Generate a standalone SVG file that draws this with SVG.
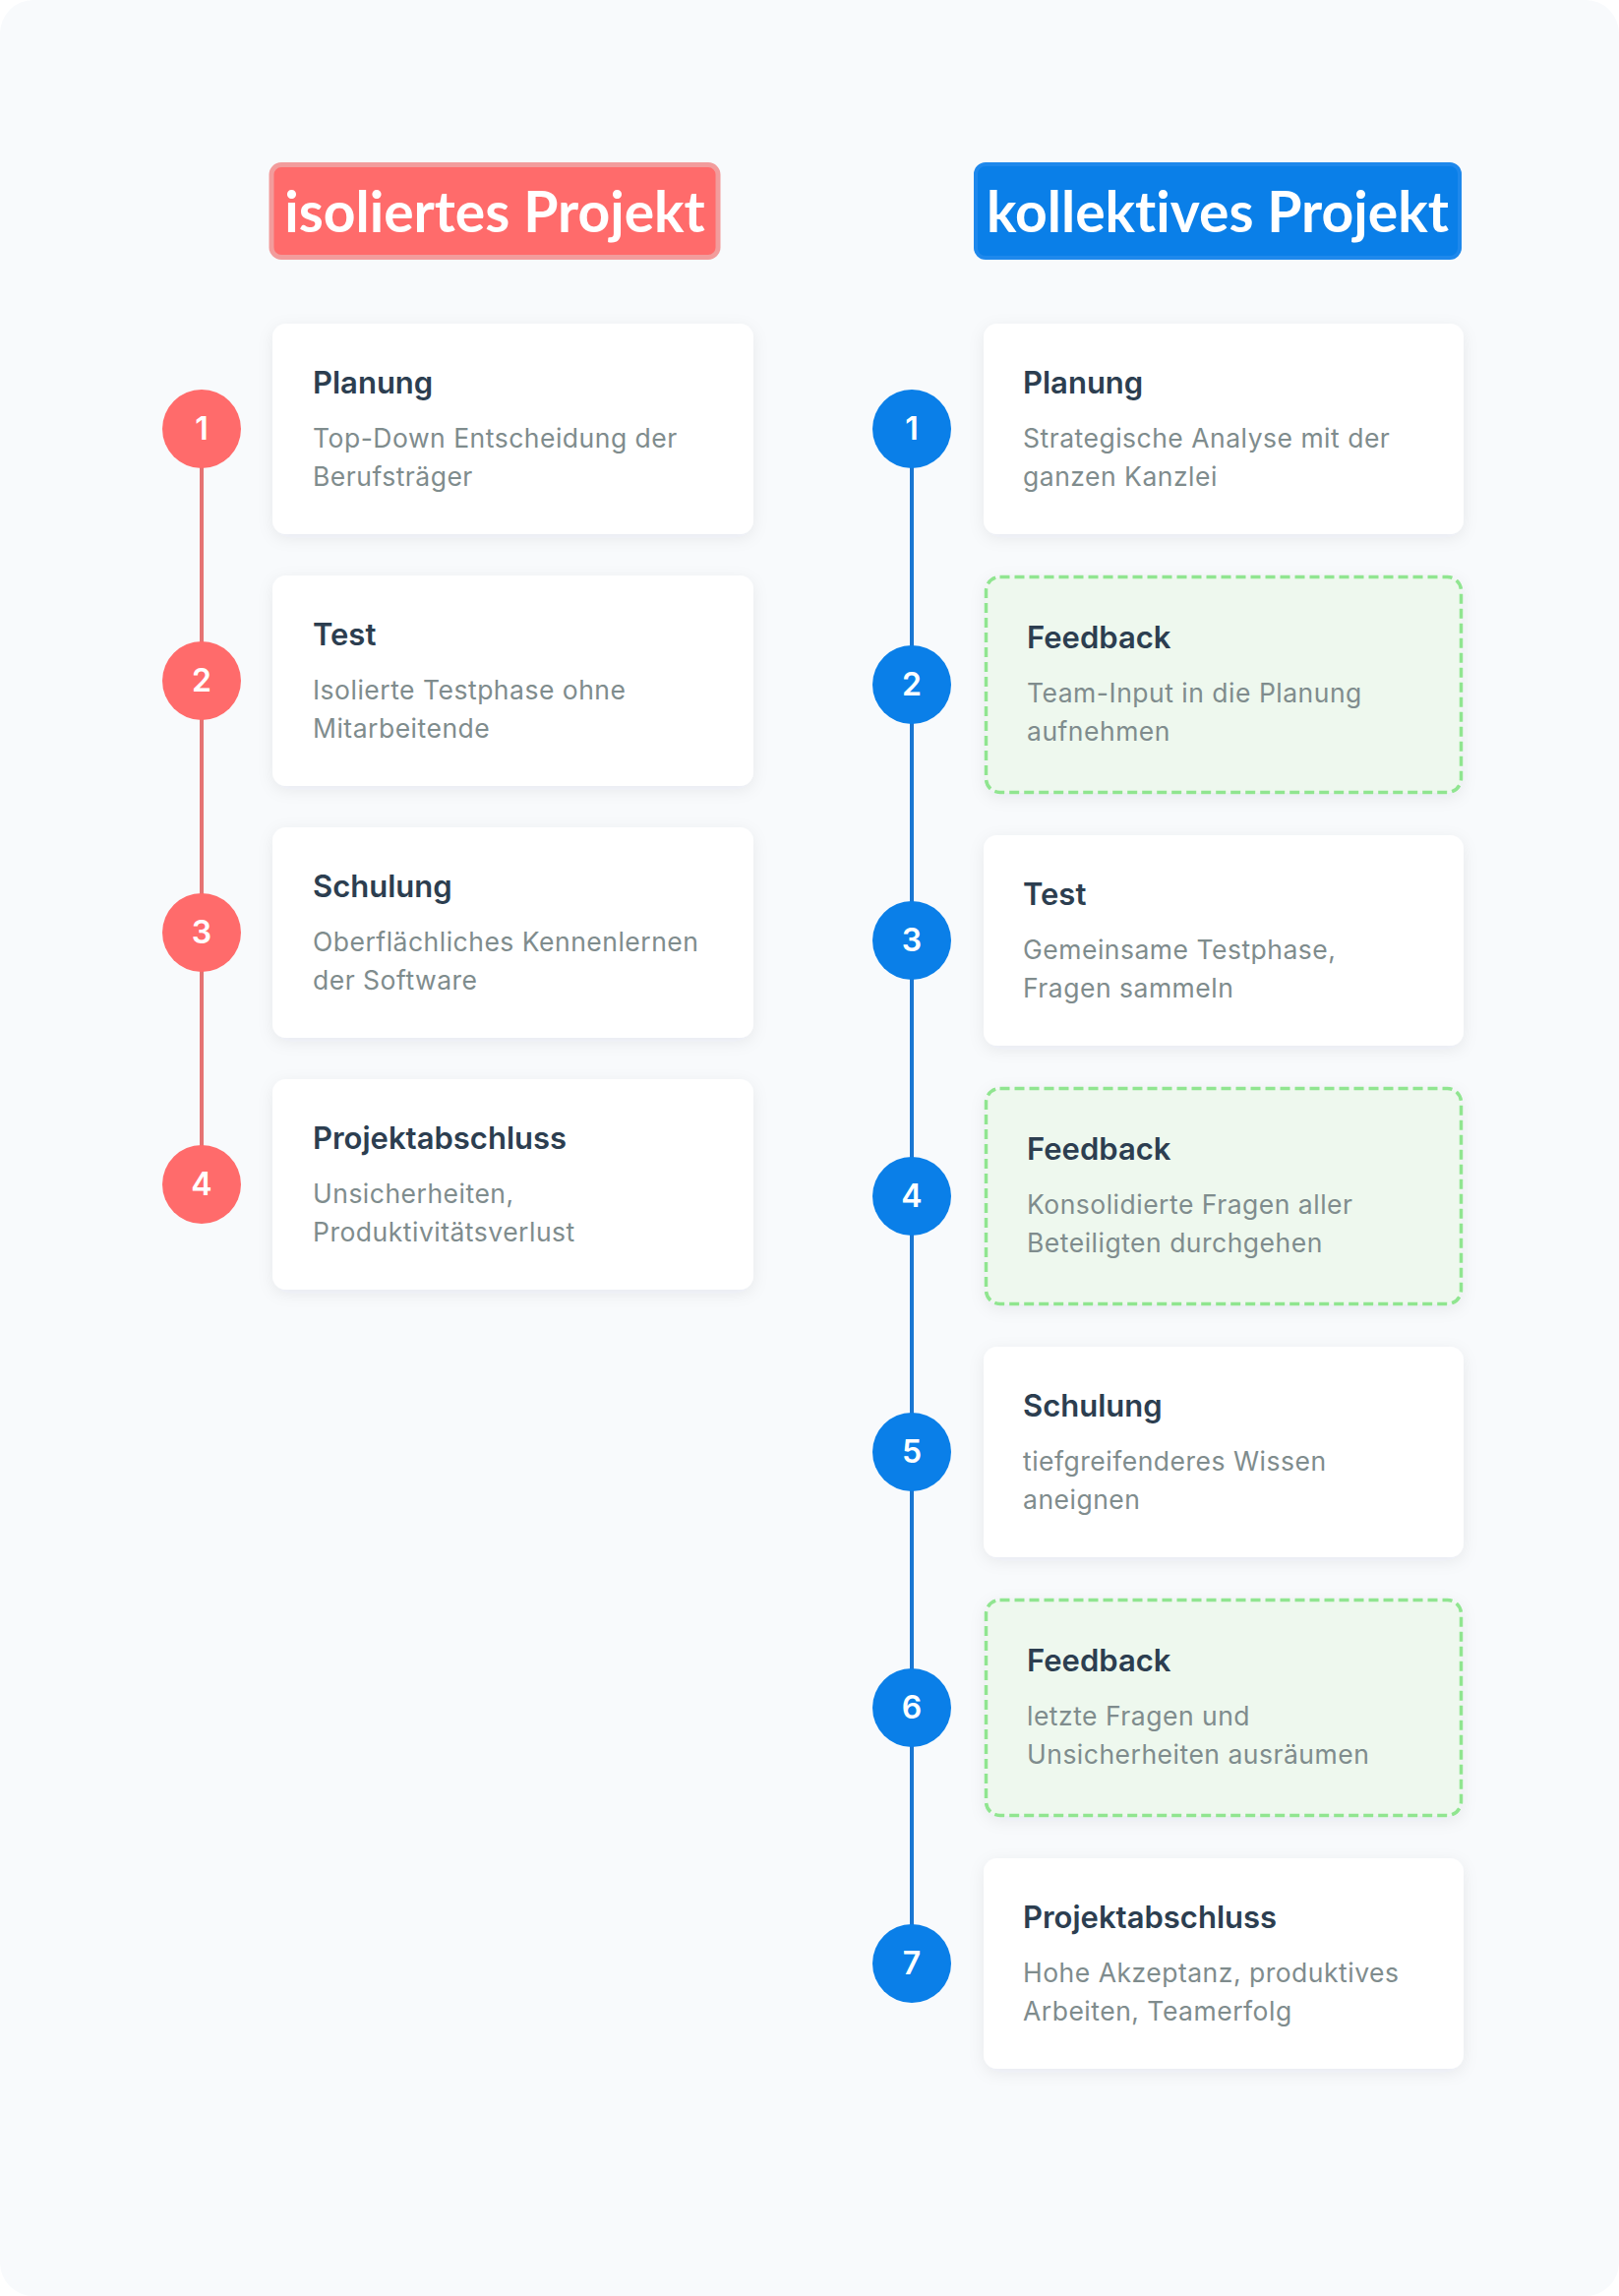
<svg xmlns="http://www.w3.org/2000/svg" width="1646" height="2334" viewBox="0 0 1646 2334">
<defs>
<filter id="sh" x="-10%" y="-15%" width="120%" height="140%">
<feDropShadow dx="0" dy="4" stdDeviation="8" flood-color="#1e293b" flood-opacity="0.07"/>
</filter>
<style>
.card{fill:#ffffff;filter:url(#sh)}
.fb{fill:#eef8ee;stroke:#90e590;stroke-width:3.5;stroke-dasharray:10 5;filter:url(#sh)}
.t{font-family:Inter,"Noto Sans",sans-serif;font-weight:600;font-size:31px;fill:#2c3e50}
.d{font-family:Inter,"Noto Sans",sans-serif;font-weight:400;font-size:26.5px;letter-spacing:0.5px;fill:#7f8c8d}
.n{font-family:Inter,"Noto Sans",sans-serif;font-weight:600;font-size:32px;fill:#ffffff;text-anchor:middle}
.h{font-family:Lato,"Liberation Sans",sans-serif;font-weight:700;font-size:57px;fill:#ffffff;text-anchor:middle;font-variant-ligatures:none;font-feature-settings:"liga" 0}
.cr{fill:#ff6b6b}
.cb{fill:#0a7fe8}
</style>
</defs>
<rect x="0" y="0" width="1646" height="2334" fill="#ffffff"/>
<rect x="0" y="0" width="1646" height="2334" rx="34" fill="#f8fafc"/>

<g id="header-left">
<rect x="276" y="167.5" width="454" height="94" rx="10" fill="#ff6b6b" stroke="#f29c9c" stroke-width="5"/>
<text class="h" x="503" y="236">isoliertes Projekt</text>
</g>
<g id="header-right">
<rect x="992" y="167" width="492" height="95" rx="10" fill="#0a7fe8" stroke="#1e88ec" stroke-width="4"/>
<text class="h" x="1238" y="236">kollektives Projekt</text>
</g>

<g id="connectors">
<line x1="205" y1="436" x2="205" y2="1204" stroke="#e57373" stroke-width="4"/>
<line x1="927" y1="436" x2="927" y2="1996" stroke="#1976d2" stroke-width="4"/>
</g>

<g id="L1">
<rect class="card" x="277" y="329" width="489" height="214" rx="14"/>
<text class="t" x="318" y="400">Planung</text>
<text class="d" x="318" y="455">Top-Down Entscheidung der</text>
<text class="d" x="318" y="494">Berufsträger</text>
<circle class="cr" cx="205" cy="436" r="40"/>
<text class="n" x="205" y="447">1</text>
</g>
<g id="L2">
<rect class="card" x="277" y="585" width="489" height="214" rx="14"/>
<text class="t" x="318" y="656">Test</text>
<text class="d" x="318" y="711">Isolierte Testphase ohne</text>
<text class="d" x="318" y="750">Mitarbeitende</text>
<circle class="cr" cx="205" cy="692" r="40"/>
<text class="n" x="205" y="703">2</text>
</g>
<g id="L3">
<rect class="card" x="277" y="841" width="489" height="214" rx="14"/>
<text class="t" x="318" y="912">Schulung</text>
<text class="d" x="318" y="967">Oberflächliches Kennenlernen</text>
<text class="d" x="318" y="1006">der Software</text>
<circle class="cr" cx="205" cy="948" r="40"/>
<text class="n" x="205" y="959">3</text>
</g>
<g id="L4">
<rect class="card" x="277" y="1097" width="489" height="214" rx="14"/>
<text class="t" x="318" y="1168">Projektabschluss</text>
<text class="d" x="318" y="1223">Unsicherheiten,</text>
<text class="d" x="318" y="1262">Produktivitätsverlust</text>
<circle class="cr" cx="205" cy="1204" r="40"/>
<text class="n" x="205" y="1215">4</text>
</g>

<g id="R1">
<rect class="card" x="1000" y="329" width="488" height="214" rx="14"/>
<text class="t" x="1040" y="400">Planung</text>
<text class="d" x="1040" y="455">Strategische Analyse mit der</text>
<text class="d" x="1040" y="494">ganzen Kanzlei</text>
<circle class="cb" cx="927" cy="436" r="40"/>
<text class="n" x="927" y="447">1</text>
</g>
<g id="R2">
<rect class="fb" x="1002.5" y="586.5" width="483" height="219" rx="14"/>
<text class="t" x="1044" y="659">Feedback</text>
<text class="d" x="1044" y="714">Team-Input in die Planung</text>
<text class="d" x="1044" y="753">aufnehmen</text>
<circle class="cb" cx="927" cy="696" r="40"/>
<text class="n" x="927" y="707">2</text>
</g>
<g id="R3">
<rect class="card" x="1000" y="849" width="488" height="214" rx="14"/>
<text class="t" x="1040" y="920">Test</text>
<text class="d" x="1040" y="975">Gemeinsame Testphase,</text>
<text class="d" x="1040" y="1014">Fragen sammeln</text>
<circle class="cb" cx="927" cy="956" r="40"/>
<text class="n" x="927" y="967">3</text>
</g>
<g id="R4">
<rect class="fb" x="1002.5" y="1106.5" width="483" height="219" rx="14"/>
<text class="t" x="1044" y="1179">Feedback</text>
<text class="d" x="1044" y="1234">Konsolidierte Fragen aller</text>
<text class="d" x="1044" y="1273">Beteiligten durchgehen</text>
<circle class="cb" cx="927" cy="1216" r="40"/>
<text class="n" x="927" y="1227">4</text>
</g>
<g id="R5">
<rect class="card" x="1000" y="1369" width="488" height="214" rx="14"/>
<text class="t" x="1040" y="1440">Schulung</text>
<text class="d" x="1040" y="1495">tiefgreifenderes Wissen</text>
<text class="d" x="1040" y="1534">aneignen</text>
<circle class="cb" cx="927" cy="1476" r="40"/>
<text class="n" x="927" y="1487">5</text>
</g>
<g id="R6">
<rect class="fb" x="1002.5" y="1626.5" width="483" height="219" rx="14"/>
<text class="t" x="1044" y="1699">Feedback</text>
<text class="d" x="1044" y="1754">letzte Fragen und</text>
<text class="d" x="1044" y="1793">Unsicherheiten ausräumen</text>
<circle class="cb" cx="927" cy="1736" r="40"/>
<text class="n" x="927" y="1747">6</text>
</g>
<g id="R7">
<rect class="card" x="1000" y="1889" width="488" height="214" rx="14"/>
<text class="t" x="1040" y="1960">Projektabschluss</text>
<text class="d" x="1040" y="2015">Hohe Akzeptanz, produktives</text>
<text class="d" x="1040" y="2054">Arbeiten, Teamerfolg</text>
<circle class="cb" cx="927" cy="1996" r="40"/>
<text class="n" x="927" y="2007">7</text>
</g>
</svg>
